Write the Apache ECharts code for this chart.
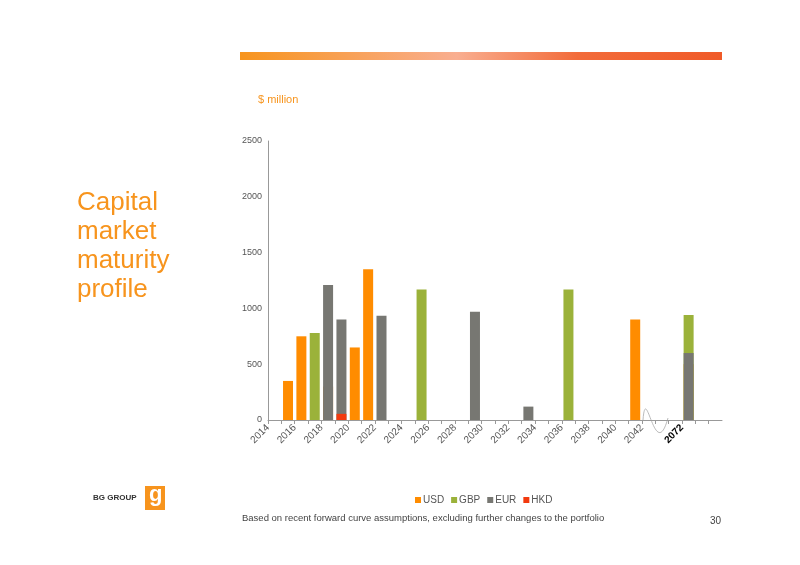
<!DOCTYPE html>
<html><head><meta charset="utf-8">
<script src="https://cdn.jsdelivr.net/npm/echarts@6/dist/echarts.min.js"></script>
<style>html,body{margin:0;padding:0;background:#fff}#c{width:800px;height:565px}</style>
</head><body><div id="c"></div>
<script>
// slot index 0 = 2014 ... 28 = 2042, slot 31 = 2072
var slots = [1, 2, 3, 4, 5, 6, 7, 8, 11, 15, 19, 22, 27, 31];
var usd = [350, 750, 0, 300, 0, 650, 1350, 0, 0, 0, 0, 0, 900, 500];
var gbp = [0, 0, 780, 0, 0, 0, 0, 0, 1170, 0, 0, 1170, 0, 940];
var eur = [0, 0, 0, 1210, 900, 0, 0, 935, 0, 970, 120, 0, 0, 600];
var hkd = [0, 0, 0, 0, 55, 0, 0, 0, 0, 0, 0, 0, 0, 0];
var tickLabels = {0:'2014',2:'2016',4:'2018',6:'2020',8:'2022',10:'2024',12:'2026',14:'2028',16:'2030',18:'2032',20:'2034',22:'2036',24:'2038',26:'2040',28:'2042',31:'2072'};

function pts(arr){return slots.map(function(s,i){return [s+0.5,arr[i]];});}
var chart = echarts.init(document.getElementById('c'));
function ser(name, arr, color){
  return {name:name,type:'bar',stack:'a',data:pts(arr),barWidth:10,itemStyle:{color:color},emphasis:{disabled:true}};
}
chart.setOption({
  animation:false,
  textStyle:{fontFamily:'Liberation Sans, Arial, sans-serif'},
  grid:{left:268,top:141,right:78,bottom:145},
  legend:{top:490,left:410,itemWidth:6,itemHeight:6,itemGap:7,icon:'rect',
    textStyle:{fontSize:10,color:'#555',padding:[0,0,0,-3]},data:['USD','GBP','EUR','HKD']},
  xAxis:{type:'value',min:0,max:34,interval:1,splitLine:{show:false},
    axisLine:{lineStyle:{color:'#999'}},axisTick:{show:true,length:4,lineStyle:{color:'#999'}},
    axisLabel:{rotate:45,fontSize:10,color:'#555',margin:6,showMinLabel:true,showMaxLabel:false,
      formatter:function(v){return v===31?'{b|2072}':(tickLabels[v]||'');},
      rich:{b:{fontSize:10,fontWeight:'bold',color:'#000'}}}},
  yAxis:{type:'value',min:0,max:2500,interval:500,splitLine:{show:false},
    axisLine:{show:true,lineStyle:{color:'#999'}},axisTick:{show:false},
    axisLabel:{fontSize:9,color:'#555',margin:6,formatter:function(v){return String(v);}}},
  series:[ser('USD',usd,'#FF8C00'),ser('GBP',gbp,'#9BB23A'),ser('EUR',eur,'#777772'),ser('HKD',hkd,'#F23A0E')],
  graphic:[
    {type:'rect',shape:{x:240,y:52,width:482,height:8},style:{fill:new echarts.graphic.LinearGradient(0,0,1,0,[{offset:0,color:'#F7941D'},{offset:0.45,color:'#F9AE90'},{offset:0.7,color:'#F26B3A'},{offset:1,color:'#F05A28'}])}},
    {type:'text',left:258,top:94,style:{text:'$ million',fill:'#F7941D',fontSize:11,fontFamily:'Liberation Sans, Arial'}},
    {type:'text',left:77,top:188,style:{text:'Capital\nmarket\nmaturity\nprofile',fill:'#F7941D',fontSize:26,lineHeight:29,fontFamily:'Liberation Sans, Arial'}},
    {type:'bezierCurve',shape:{x1:643,y1:420,x2:668,y2:418,cpx1:646,cpy1:380,cpx2:655,cpy2:465},style:{stroke:'#aaa',lineWidth:0.8,fill:null}},
    {type:'text',left:93,top:494,style:{text:'BG GROUP',fill:'#333',fontSize:8,fontWeight:'bold',fontFamily:'Liberation Sans, Arial'}},
    {type:'rect',shape:{x:145,y:486,width:20,height:24},style:{fill:'#F7941D'}},
    {type:'text',left:149,top:484,style:{text:'g',fill:'#fff',fontSize:22,fontWeight:'bold',fontFamily:'Liberation Sans, Arial'}},
    {type:'text',left:242,top:513,style:{text:'Based on recent forward curve assumptions, excluding further changes to the portfolio',fill:'#444',fontSize:9.5,fontFamily:'Liberation Sans, Arial'}},
    {type:'text',left:710,top:516,style:{text:'30',fill:'#444',fontSize:10,fontFamily:'Liberation Sans, Arial'}}
  ]
});
</script></body></html>
